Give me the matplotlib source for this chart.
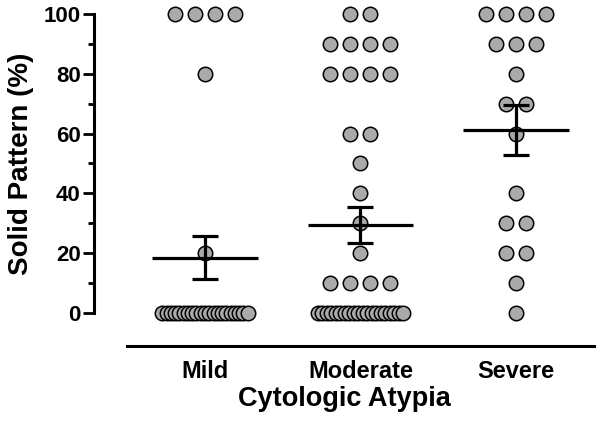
import numpy as np
import matplotlib
matplotlib.use('Agg')
import matplotlib.pyplot as plt

plt.rcParams['font.family'] = ['Liberation Sans', 'DejaVu Sans']
plt.rcParams['font.weight'] = 'bold'

categories = ['Mild', 'Moderate', 'Severe']

mild = [100, 100, 100, 100, 80, 20,
        0, 0, 0, 0, 0, 0, 0, 0, 0, 0, 0, 0, 0, 0, 0, 0, 0, 0, 0, 0, 0]
moderate = [100, 100, 90, 90, 90, 90, 80, 80, 80, 80, 60, 60, 50, 40, 30, 20,
            10, 10, 10, 10,
            0, 0, 0, 0, 0, 0, 0, 0, 0, 0, 0, 0, 0, 0, 0, 0, 0, 0, 0, 0]
severe = [100, 100, 100, 100, 90, 90, 90, 80, 70, 70, 60, 40, 30, 30,
          20, 20, 10, 0]

groups = [mild, moderate, severe]


def swarm_offsets(values, step=0.1286, max_width=0.55):
    # spread equal values side by side, squeeze long rows
    values = np.asarray(values)
    offs = np.zeros(len(values))
    for v in np.unique(values):
        idx = np.where(values == v)[0]
        k = len(idx)
        if k == 1:
            continue
        width = min((k - 1) * step, max_width)
        offs[idx] = np.linspace(-width / 2, width / 2, k)
    return offs


fig = plt.figure(figsize=(6, 4.21), dpi=100)
ax = fig.add_axes([94 / 600, 75 / 421, 500 / 600, 341 / 421])

for i, vals in enumerate(groups):
    x = i + swarm_offsets(vals)
    ax.scatter(x, vals, s=108, facecolor='#aaaaaa', edgecolor='black',
               linewidths=1.1, zorder=3, clip_on=False)
    mean = np.mean(vals)
    sem = np.std(vals, ddof=1) / np.sqrt(len(vals))
    ax.hlines(mean, i - 0.34, i + 0.34, color='black', lw=2.3, zorder=4)
    ax.errorbar(i, mean, yerr=sem, fmt='none', ecolor='black', elinewidth=2.3,
                capsize=9.5, capthick=2.3, zorder=4)

ax.set_xlim(-0.714, 2.502)
ax.set_ylim(-11.04, 103.0)

for s in ['top', 'right']:
    ax.spines[s].set_visible(False)
ax.spines['left'].set_bounds(0, 100)
ax.spines['bottom'].set_bounds(-0.5, 2.5)
ax.spines['left'].set_linewidth(2.2)
ax.spines['bottom'].set_linewidth(2.2)

ax.set_yticks(np.arange(0, 101, 20))
ax.set_yticks(np.arange(10, 100, 20), minor=True)
ax.tick_params(axis='y', which='major', length=8, width=2.0, labelsize=16, pad=1.5)
ax.tick_params(axis='y', which='minor', length=4.5, width=2.0)
ax.set_xticks(range(len(categories)))
ax.set_xticklabels(categories)
ax.tick_params(axis='x', length=0, labelsize=17, pad=10)

ax.set_xlabel('Cytologic Atypia', fontsize=19.5, fontweight='bold', labelpad=2)
ax.set_ylabel('Solid Pattern (%)', fontsize=20, fontweight='bold')
ax.yaxis.set_label_coords(-0.12, 0.535)

fig.savefig('out.png', dpi=100)
